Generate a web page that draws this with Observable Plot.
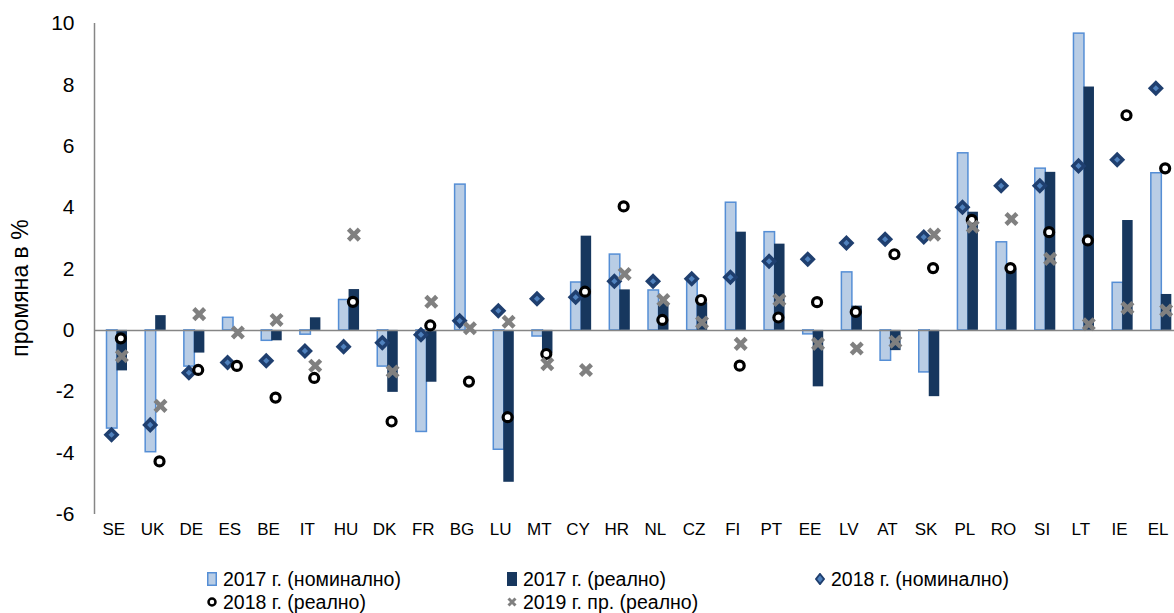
<!DOCTYPE html>
<html><head><meta charset="utf-8">
<script src="https://cdn.jsdelivr.net/npm/d3@7"></script>
<script src="https://cdn.jsdelivr.net/npm/@observablehq/plot@0.6"></script>
<style>
body{margin:0;background:#fff;font-family:"Liberation Sans",Arial,sans-serif;}
#wrap{position:relative;width:1174px;height:613px;overflow:hidden;background:#fff}
#legend{position:absolute;left:0;top:560px;width:1174px;height:53px;font-size:19.5px;color:#000}
.item{position:absolute;display:flex;align-items:center;white-space:nowrap;height:22px}
.item svg{margin-right:6px;flex:none}
.item span{display:inline-block;height:22px;line-height:22px}
#ytitle{position:absolute;left:20px;top:288px;transform:translate(-50%,-50%) rotate(-90deg);font-size:23px;white-space:nowrap;line-height:24px;color:#000}
</style></head><body>
<div id="wrap"><div id="chart"></div><div id="ytitle"></div><div id="legend"></div></div>
<script>
const countries = ["SE","UK","DE","ES","BE","IT","HU","DK","FR","BG","LU","MT","CY","HR","NL","CZ","FI","PT","EE","LV","AT","SK","PL","RO","SI","LT","IE","EL"];
const nom2017 = [-3.2,-3.97,-1.18,0.41,-0.34,-0.14,0.99,-1.18,-3.31,4.75,-3.89,-0.2,1.56,2.47,1.3,1.58,4.16,3.2,-0.13,1.89,-0.99,-1.37,5.77,2.87,5.27,9.67,1.55,5.12];
const real2017 = [-1.32,0.48,-0.74,0,-0.34,0.41,1.33,-2.02,-1.69,0,-4.95,-0.75,3.07,1.32,0.88,0.9,3.2,2.81,-1.84,0.79,-0.66,-2.16,3.85,2.0,5.15,7.93,3.58,1.17];
const nom2018 = [-3.4,-3.08,-1.38,-1.05,-0.99,-0.67,-0.53,-0.4,-0.14,0.31,0.64,1.03,1.08,1.6,1.6,1.68,1.73,2.25,2.32,2.85,2.97,3.04,4.01,4.71,4.71,5.36,5.56,7.89];
const real2018 = [-0.26,-4.27,-1.29,-1.16,-2.19,-1.55,0.93,-2.97,0.16,-1.67,-2.83,-0.77,1.26,4.04,0.34,0.99,-1.15,0.42,0.92,0.6,2.48,2.03,3.6,2.03,3.2,2.93,7.01,5.28];
const real2019 = [-0.84,-2.46,0.53,-0.07,0.34,-1.15,3.12,-1.34,0.93,0.07,0.28,-1.1,-1.29,1.84,0.99,0.26,-0.44,0.99,-0.44,-0.59,-0.37,3.12,3.38,3.63,2.33,0.2,0.73,0.65];
const yTicks = [-6,-4,-2,0,2,4,6,8,10];
const yTitle = "промяна в %";
const seriesNames = ["2017 г. (номинално)","2017 г. (реално)","2018 г. (номинално)","2018 г. (реално)","2019 г. пр. (реално)"];

const rows = countries.map((c,i)=>({c, nom17:nom2017[i], real17:real2017[i], nom18:nom2018[i], real18:real2018[i], real19:real2019[i]}));
const x0 = 94, x1 = 1177;
const step = (x1-x0)/countries.length;

const chart = Plot.plot({
  width:1174, height:560, marginLeft:94, marginRight:0, marginTop:23, marginBottom:46,
  style:{fontFamily:"Liberation Sans, Arial, sans-serif", background:"white", color:"black", overflow:"visible"},
  x:{type:"band", domain:countries, range:[x0,x1], padding:0, round:false},
  y:{domain:[-6,10]},
  marks:[
    Plot.barY(rows,{x:"c", y:"nom17", fill:"#B9CDE5", stroke:"#558ED5", strokeWidth:1.5, insetLeft:12.5, insetRight:step-23}),
    Plot.barY(rows,{x:"c", y:"real17", fill:"#17375E", insetLeft:22.5, insetRight:step-33}),
    Plot.ruleY([0],{stroke:"#868686", strokeWidth:1.5}),
    Plot.ruleX([countries[0]],{x:d=>d, y1:-6, y2:10, dx:-step/2, stroke:"#868686", strokeWidth:1.5}),
    Plot.axisY({ticks:yTicks, tickSize:0, tickPadding:20, fontSize:21, label:null, tickFormat:d=>String(d)}),
    Plot.axisX({tickSize:0, tickPadding:8, fontSize:17, label:null}),
    Plot.dot(rows,{x:"c", y:"nom18", symbol:"diamond2", r:5, fill:"#4F81BD", stroke:"#1F3F6F", strokeWidth:3.5, dx:-2.3}),
    Plot.dot(rows,{x:"c", y:"real18", symbol:"circle", r:4.5, fill:"white", stroke:"black", strokeWidth:3.2, dx:7}),
    Plot.dot(rows,{x:"c", y:"real19", symbol:"times", r:5, stroke:"#808080", strokeWidth:4.5, dx:8})
  ]
});
document.getElementById("chart").appendChild(chart);
document.getElementById("ytitle").textContent = yTitle;

const sw = [
  '<svg width="10" height="14"><rect x="0.75" y="0.75" width="8.5" height="12.5" fill="#B9CDE5" stroke="#558ED5" stroke-width="1.5"/></svg>',
  '<svg width="10" height="14"><rect x="0" y="0" width="10" height="14" fill="#17375E"/></svg>',
  '<svg width="10" height="12"><path d="M5,1L9,6L5,11L1,6Z" fill="#4F81BD" stroke="#1F3F6F" stroke-width="2"/></svg>',
  '<svg width="10" height="12"><circle cx="5" cy="6" r="3.5" fill="white" stroke="black" stroke-width="2.5"/></svg>',
  '<svg width="10" height="12"><path d="M1.5,2.5L8.5,9.5M1.5,9.5L8.5,2.5" stroke="#808080" stroke-width="3"/></svg>'
];
const pos = [[207,8],[507,8],[815,8],[207,30.5],[507,30.5]];
const leg = document.getElementById("legend");
seriesNames.forEach((n,i)=>{
  const d = document.createElement("div");
  d.className = "item";
  d.style.left = pos[i][0]+"px";
  d.style.top = pos[i][1]+"px";
  d.innerHTML = sw[i] + '<span>'+n+'</span>';
  leg.appendChild(d);
});
</script>
</body></html>
